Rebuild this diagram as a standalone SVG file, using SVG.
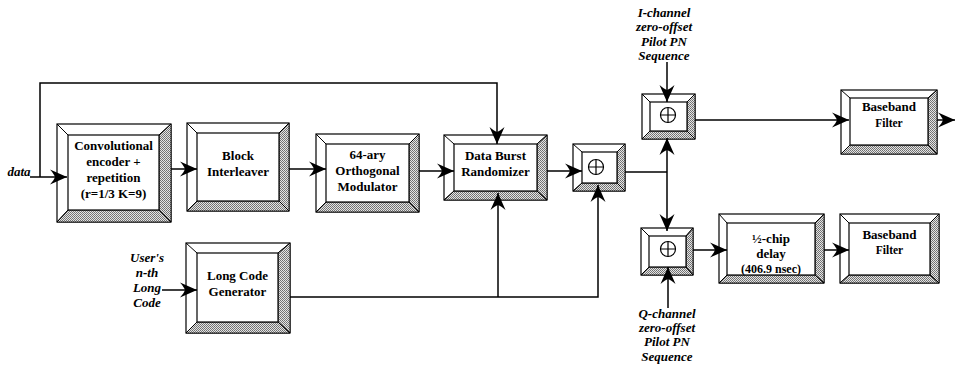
<svg xmlns="http://www.w3.org/2000/svg" width="956" height="368" viewBox="0 0 956 368">
  <defs>
    <!-- stippled shading used on the lower/right bevels -->
    <pattern id="stipple" width="2" height="2" patternUnits="userSpaceOnUse">
      <rect width="2" height="2" fill="#e4e4e4"/>
      <rect x="0" y="0" width="1" height="1" fill="#6e6e6e"/>
      <rect x="1" y="1" width="1" height="1" fill="#7a7a7a"/>
    </pattern>
    <marker id="arrow" markerUnits="userSpaceOnUse" markerWidth="18" markerHeight="16" viewBox="0 -8 18 16" refX="17" refY="0" orient="auto-start-reverse">
      <path d="M17,0 L0,-7.5 Q4,-3 5,0 Q4,3 0,7.5 Z" fill="#000"/>
    </marker>
  </defs>
  <style>
    .outer { fill: #fff; stroke: #000; stroke-width: 1.2; }
    .shade { fill: url(#stipple); stroke: #000; stroke-width: 0.8; }
    .inner { fill: #fff; stroke: #000; stroke-width: 1.2; }
    .diag { stroke: #000; stroke-width: 1; fill: none; }
    .lbl { font-family: "Liberation Serif", "Times New Roman", serif; font-weight: bold; font-size: 13px; fill: #000; text-anchor: middle; }
    .small { font-size: 11.5px; }
    .ext { font-family: "Liberation Serif", "Times New Roman", serif; font-weight: bold; font-style: italic; font-size: 13px; fill: #000; text-anchor: middle; }
    .wire { fill: none; stroke: #000; stroke-width: 1.5; }
    .sym { fill: none; stroke: #000; stroke-width: 1.2; }
  </style>

  <rect width="956" height="368" fill="#fff"/>

  <!-- external input / reference labels -->
  <g id="labels">
    <text class="ext" x="19" y="176">data</text>
    <text class="ext" x="147" y="262">User's</text>
    <text class="ext" x="147" y="277">n-th</text>
    <text class="ext" x="147" y="292">Long</text>
    <text class="ext" x="147" y="307">Code</text>
    <text class="ext" x="664" y="17">I-channel</text>
    <text class="ext" x="664" y="31">zero-offset</text>
    <text class="ext" x="664" y="46">Pilot PN</text>
    <text class="ext" x="664" y="60">Sequence</text>
    <text class="ext" x="667" y="318">Q-channel</text>
    <text class="ext" x="667" y="332">zero-offset</text>
    <text class="ext" x="667" y="346">Pilot PN</text>
    <text class="ext" x="667" y="361">Sequence</text>
  </g>

  <!-- Convolutional encoder -->
  <g id="conv-encoder">
    <rect class="outer" x="57" y="124" width="114" height="98"/>
    <polygon class="shade" points="171,124 171,222 159,210 159,135"/>
    <polygon class="shade" points="57,222 171,222 159,210 68,210"/>
    <path class="diag" d="M57,124 L68,135 M171,124 L159,135 M57,222 L68,210 M171,222 L159,210"/>
    <rect class="inner" x="68" y="135" width="91" height="75"/>
    <text class="lbl" x="113.5" y="150">Convolutional</text>
    <text class="lbl" x="113.5" y="166">encoder +</text>
    <text class="lbl" x="113.5" y="182">repetition</text>
    <text class="lbl" x="113.5" y="198">(r=1/3 K=9)</text>
  </g>

  <!-- Block interleaver -->
  <g id="block-interleaver">
    <rect class="outer" x="187" y="123" width="102" height="88"/>
    <polygon class="shade" points="289,123 289,211 279,201 279,133"/>
    <polygon class="shade" points="187,211 289,211 279,201 197,201"/>
    <path class="diag" d="M187,123 L197,133 M289,123 L279,133 M187,211 L197,201 M289,211 L279,201"/>
    <rect class="inner" x="197" y="133" width="82" height="68"/>
    <text class="lbl" x="238" y="160">Block</text>
    <text class="lbl" x="238" y="176">Interleaver</text>
  </g>

  <!-- 64-ary orthogonal modulator -->
  <g id="orthogonal-modulator">
    <rect class="outer" x="316" y="134" width="103" height="78"/>
    <polygon class="shade" points="419,134 419,212 409,202 409,144"/>
    <polygon class="shade" points="316,212 419,212 409,202 326,202"/>
    <path class="diag" d="M316,134 L326,144 M419,134 L409,144 M316,212 L326,202 M419,212 L409,202"/>
    <rect class="inner" x="326" y="144" width="83" height="58"/>
    <text class="lbl" x="367.5" y="159">64-ary</text>
    <text class="lbl" x="367.5" y="175">Orthogonal</text>
    <text class="lbl" x="367.5" y="191">Modulator</text>
  </g>

  <!-- Data burst randomizer -->
  <g id="burst-randomizer">
    <rect class="outer" x="444" y="135" width="103" height="65"/>
    <polygon class="shade" points="547,135 547,200 537,191 537,144"/>
    <polygon class="shade" points="444,200 547,200 537,191 454,191"/>
    <path class="diag" d="M444,135 L454,144 M547,135 L537,144 M444,200 L454,191 M547,200 L537,191"/>
    <rect class="inner" x="454" y="144" width="83" height="47"/>
    <text class="lbl" x="495.5" y="160">Data Burst</text>
    <text class="lbl" x="495.5" y="176">Randomizer</text>
  </g>

  <!-- Long code generator -->
  <g id="long-code-generator">
    <rect class="outer" x="186" y="243" width="104" height="90"/>
    <polygon class="shade" points="290,243 290,333 278,322 278,253"/>
    <polygon class="shade" points="186,333 290,333 278,322 197,322"/>
    <path class="diag" d="M186,243 L197,253 M290,243 L278,253 M186,333 L197,322 M290,333 L278,322"/>
    <rect class="inner" x="197" y="253" width="81" height="69"/>
    <text class="lbl" x="237.5" y="280">Long Code</text>
    <text class="lbl" x="237.5" y="296">Generator</text>
  </g>

  <!-- Scrambling adder -->
  <g id="adder-scramble">
    <rect class="outer" x="573" y="144" width="52" height="47"/>
    <polygon class="shade" points="625,144 625,191 617,183 617,152"/>
    <polygon class="shade" points="573,191 625,191 617,183 582,183"/>
    <path class="diag" d="M573,144 L582,152 M625,144 L617,152 M573,191 L582,183 M625,191 L617,183"/>
    <rect class="inner" x="582" y="152" width="35" height="31"/>
    <circle class="sym" cx="596" cy="167" r="7.5"/>
    <path class="sym" d="M588.5,167 H603.5 M596,159.5 V174.5"/>
  </g>

  <!-- I-channel spreading adder -->
  <g id="adder-i">
    <rect class="outer" x="642" y="94" width="53" height="45"/>
    <polygon class="shade" points="695,94 695,139 687,131 687,102"/>
    <polygon class="shade" points="642,139 695,139 687,131 650,131"/>
    <path class="diag" d="M642,94 L650,102 M695,94 L687,102 M642,139 L650,131 M695,139 L687,131"/>
    <rect class="inner" x="650" y="102" width="37" height="29"/>
    <circle class="sym" cx="668" cy="115" r="7.5"/>
    <path class="sym" d="M660.5,115 H675.5 M668,107.5 V122.5"/>
  </g>

  <!-- Q-channel spreading adder -->
  <g id="adder-q">
    <rect class="outer" x="641" y="228" width="52" height="47"/>
    <polygon class="shade" points="693,228 693,275 686,267 686,236"/>
    <polygon class="shade" points="641,275 693,275 686,267 649,267"/>
    <path class="diag" d="M641,228 L649,236 M693,228 L686,236 M641,275 L649,267 M693,275 L686,267"/>
    <rect class="inner" x="649" y="236" width="37" height="31"/>
    <circle class="sym" cx="668" cy="249" r="7.5"/>
    <path class="sym" d="M660.5,249 H675.5 M668,241.5 V256.5"/>
  </g>

  <!-- Half-chip delay -->
  <g id="half-chip-delay">
    <rect class="outer" x="719" y="214" width="105" height="69"/>
    <polygon class="shade" points="824,214 824,283 815,275 815,223"/>
    <polygon class="shade" points="719,283 824,283 815,275 727,275"/>
    <path class="diag" d="M719,214 L727,223 M824,214 L815,223 M719,283 L727,275 M824,283 L815,275"/>
    <rect class="inner" x="727" y="223" width="88" height="52"/>
    <text class="lbl" x="771" y="243">½-chip</text>
    <text class="lbl" x="771" y="258">delay</text>
    <text class="lbl" x="771" y="273" style="font-size:12px">(406.9 nsec)</text>
  </g>

  <!-- Baseband filter, I branch -->
  <g id="baseband-filter-i">
    <rect class="outer" x="841" y="90" width="96" height="64"/>
    <polygon class="shade" points="937,90 937,154 928,145 928,98"/>
    <polygon class="shade" points="841,154 937,154 928,145 850,145"/>
    <path class="diag" d="M841,90 L850,98 M937,90 L928,98 M841,154 L850,145 M937,154 L928,145"/>
    <rect class="inner" x="850" y="98" width="78" height="47"/>
    <text class="lbl" x="889" y="111">Baseband</text>
    <text class="lbl small" x="889" y="127">Filter</text>
  </g>

  <!-- Baseband filter, Q branch -->
  <g id="baseband-filter-q">
    <rect class="outer" x="840" y="214" width="99" height="69"/>
    <polygon class="shade" points="939,214 939,283 930,275 930,223"/>
    <polygon class="shade" points="840,283 939,283 930,275 849,275"/>
    <path class="diag" d="M840,214 L849,223 M939,214 L930,223 M840,283 L849,275 M939,283 L930,275"/>
    <rect class="inner" x="849" y="223" width="81" height="52"/>
    <text class="lbl" x="889.5" y="239">Baseband</text>
    <text class="lbl small" x="889.5" y="254">Filter</text>
  </g>

  <!-- signal paths -->
  <g id="connectors">
    <path class="wire" d="M30,177 H67" marker-end="url(#arrow)"/>
    <path class="wire" d="M40,177 V83 H497 V144" marker-end="url(#arrow)"/>
    <path class="wire" d="M171,169 H197" marker-end="url(#arrow)"/>
    <path class="wire" d="M289,169 H326" marker-end="url(#arrow)"/>
    <path class="wire" d="M419,171 H454" marker-end="url(#arrow)"/>
    <path class="wire" d="M547,171 H582" marker-end="url(#arrow)"/>
    <path class="wire" d="M625,172 H667"/>
    <path class="wire" d="M667,138 V231" marker-start="url(#arrow)" marker-end="url(#arrow)"/>
    <path class="wire" d="M667,62 V102" marker-end="url(#arrow)"/>
    <path class="wire" d="M695,120 H849" marker-end="url(#arrow)"/>
    <path class="wire" d="M937,120 H955" marker-end="url(#arrow)"/>
    <path class="wire" d="M693,250 H727" marker-end="url(#arrow)"/>
    <path class="wire" d="M824,250 H849" marker-end="url(#arrow)"/>
    <path class="wire" d="M668,308 V267" marker-end="url(#arrow)"/>
    <path class="wire" d="M162,290 H197" marker-end="url(#arrow)"/>
    <path class="wire" d="M290,297 H598 V185" marker-end="url(#arrow)"/>
    <path class="wire" d="M498,297 V193" marker-end="url(#arrow)"/>
  </g>
</svg>
